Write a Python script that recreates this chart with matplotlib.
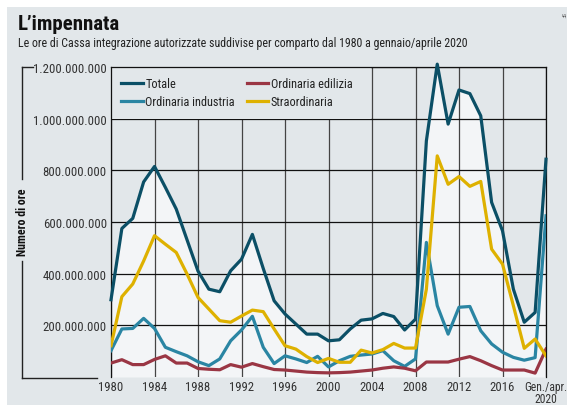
import matplotlib
matplotlib.use('Agg')
import matplotlib.pyplot as plt
from matplotlib.patches import Rectangle
from matplotlib.lines import Line2D
from matplotlib import font_manager

# look for a condensed face, the original uses one
ttf = font_manager.fontManager.ttflist
names = set(f.name for f in ttf)
k = 1.0
if 'Roboto Condensed' in names:
    plt.rcParams['font.family'] = ['Roboto Condensed', 'DejaVu Sans']
elif 'Liberation Sans Narrow' in names:
    plt.rcParams['font.family'] = ['Liberation Sans Narrow', 'DejaVu Sans']
elif any(f.name == 'DejaVu Sans' and f.stretch == 'condensed' for f in ttf):
    plt.rcParams['font.family'] = ['DejaVu Sans']
    plt.rcParams['font.stretch'] = 'condensed'
    k = 0.92
else:
    plt.rcParams['font.family'] = ['Liberation Sans', 'DejaVu Sans']
    k = 0.8

# data (milioni di ore), 1980..2019 + gen/apr 2020
years = list(range(1980, 2021))
totale = [299, 575, 614, 755, 815, 734, 650, 530, 410, 340, 330, 411, 456, 552, 420, 295,
          244, 205, 166, 166, 140, 144, 186, 220, 225, 246, 234, 182, 224, 914,
          1211, 979, 1111, 1097, 1011, 676, 566, 340, 212, 250, 843]
industria = [102, 186, 188, 227, 188, 115, 98, 82, 59, 44, 70, 140, 182, 235, 115, 52,
             82, 70, 56, 80, 39, 63, 80, 85, 89, 102, 63, 41, 70, 521,
             276, 166, 270, 273, 179, 128, 96, 76, 65, 75, 624]
edilizia = [54, 67, 48, 48, 68, 82, 54, 54, 33, 30, 28, 48, 38, 52, 40, 29,
            27, 23, 19, 17, 16, 17, 19, 23, 27, 34, 39, 34, 24, 58,
            58, 58, 69, 79, 63, 44, 27, 27, 27, 15, 108]
straord = [121, 311, 360, 449, 547, 514, 482, 398, 308, 263, 218, 212, 236, 259, 253, 186,
           121, 108, 79, 56, 72, 57, 57, 104, 93, 106, 130, 112, 112, 340,
           856, 746, 776, 738, 757, 495, 437, 276, 111, 147, 82]

yticks = [200e6, 400e6, 600e6, 800e6, 1000e6, 1200e6]
ytick_labels = ['200.000.000', '400.000.000', '600.000.000', '800.000.000',
                '1.000.000.000', '1.200.000.000']
xticks = list(range(1980, 2021, 4))
xtick_labels = [str(y) for y in range(1980, 2020, 4)] + ['Gen./apr.\n2020']

bg = '#e2e7ea'
c_tot = '#0b4f66'
c_ind = '#2a85a3'
c_edi = '#9a3644'
c_str = '#deb100'

fig = plt.figure(figsize=(5.67, 4.06), dpi=100)
fig.patch.set_facecolor('white')
fig.patches.append(Rectangle((7 / 567, 0), 1, 1 - 8 / 406, transform=fig.transFigure,
                             facecolor=bg, edgecolor='none', zorder=-10))

ax = fig.add_axes([111 / 567, 1 - 378 / 406, (546 - 111) / 567, (378 - 68) / 406])
ax.set_facecolor(bg)
ax.set_axisbelow(True)

def m(v):
    return [x * 1e6 for x in v]

ax.fill_between(years, 0, m(totale), color='#f3f5f7', zorder=0.3, linewidth=0)
lw = 2.3
ax.plot(years, m(totale), color=c_tot, lw=lw, label='Totale', zorder=4, clip_on=False)
ax.plot(years, m(industria), color=c_ind, lw=lw, label='Ordinaria industria', zorder=3)
ax.plot(years, m(edilizia), color=c_edi, lw=lw, label='Ordinaria edilizia', zorder=3)
ax.plot(years, m(straord), color=c_str, lw=lw, label='Straordinaria', zorder=3)

ax.set_xlim(1980, 2020)
ax.set_ylim(0, 1200e6)
ax.set_yticks(yticks)
ax.set_yticklabels(ytick_labels)
ax.set_xticks(xticks)
ax.set_xticklabels(xtick_labels, linespacing=0.88)
ax.tick_params(axis='y', length=0, labelsize=9.2 * k, labelcolor='#333333', pad=3)
ax.tick_params(axis='x', length=0, labelsize=9.2 * k, labelcolor='#333333', pad=2)
last = ax.get_xticklabels()[-1]
last.set_fontsize(8.4 * k)
last.set_x(2019.8)
ax.yaxis.grid(True, color='#111111', lw=0.9)
ax.xaxis.grid(True, color='#444444', lw=0.9)
for s in ['left', 'right', 'top']:
    ax.spines[s].set_color('#111111')
    ax.spines[s].set_linewidth(0.9)
ax.spines['bottom'].set_visible(False)

# legend area hides the grid
ax.add_patch(Rectangle((1980, 1000e6), 23.95, 200e6, facecolor=bg, edgecolor='none', zorder=0.6))
leg = ax.legend(ncol=2, loc='upper left', bbox_to_anchor=(0.0, 1.0), frameon=False,
                fontsize=8.8 * k, handlelength=1.75, handletextpad=0.2, columnspacing=1.0,
                labelspacing=0.4, borderaxespad=0.45)
for t in leg.get_texts():
    t.set_color('#222222')

# y label with bracket
x0 = 22 / 567
fl = lambda xs, ys: fig.add_artist(Line2D(xs, ys, transform=fig.transFigure, color='#222222', lw=1))
fl([x0, x0], [1 - 68 / 406, 1 - 180 / 406])
fl([x0, x0], [1 - 262 / 406, 1 - 379 / 406])
fl([x0, 33 / 567], [1 - 68 / 406, 1 - 68 / 406])
fl([x0, 97 / 567], [1 - 379 / 406, 1 - 379 / 406])
fig.text(x0, 1 - 222 / 406, 'Numero di ore', rotation=90, ha='center', va='center',
         fontsize=8.6 * k, fontweight='bold', color='#111111')

fig.text(18 / 567, 1 - 29.5 / 406, 'L’impennata', fontsize=15 * k, fontweight='bold',
         color='#111111', va='baseline')
fig.text(18 / 567, 1 - 47.5 / 406, 'Le ore di Cassa integrazione autorizzate suddivise per comparto dal 1980 a gennaio/aprile 2020',
         fontsize=8.6 * k, color='#222222', va='baseline')
fig.text(562 / 567, 1 - 16 / 406, 'SF', fontsize=4, rotation=-90, color='#555555', ha='center', va='center')

fig.savefig('out.png', dpi=100, facecolor=fig.get_facecolor())
